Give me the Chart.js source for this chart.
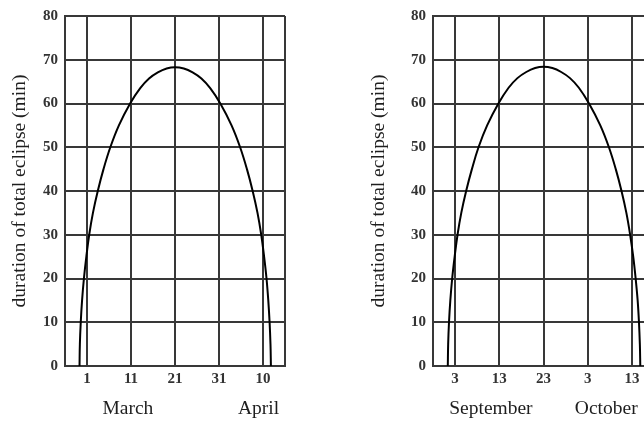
<!DOCTYPE html>
<html>
<head>
<meta charset="utf-8">
<script src="https://cdn.jsdelivr.net/npm/chart.js@4/dist/chart.umd.min.js"></script>
<style>
  html, body { margin: 0; padding: 0; background: #fff; width: 644px; height: 423px; overflow: hidden; }
  #wrap { position: relative; width: 644px; height: 423px; overflow: hidden; }
  canvas { position: absolute; top: 0; }
  #spring { left: 0; }
  #autumn { left: 340px; }
</style>
</head>
<body>
<div id="wrap">
  <canvas id="spring" width="300" height="423"></canvas>
  <canvas id="autumn" width="340" height="423"></canvas>
</div>
<script>
// Duration of a total lunar eclipse seen from the pole, around each equinox.
// x = days counted from the first labelled date (March 1 / September 3).

// Spring: days from March 1
const springDays = [-1.7, -1.62, -1.42, -1.12, -0.7, -0.15, 0.5, 1.35, 2.45, 3.75, 5.3, 7.25, 9.8, 12.1, 14.1, 16.1, 18.1, 20,
  22, 24, 26, 28, 30.3, 32.85, 34.8, 36.35, 37.65, 38.75, 39.6, 40.25, 40.8, 41.2, 41.5, 41.7, 41.8];
const springMinutes = [0, 5, 10, 15, 20, 25, 30, 35, 40, 45, 50, 55, 60, 63.5, 65.7, 67.1, 68, 68.3,
  68, 67.1, 65.7, 63.5, 60, 55, 50, 45, 40, 35, 30, 25, 20, 15, 10, 5, 0];
const springTickDays = [0, 10, 20, 30, 40];
const springTickLabels = ['1', '11', '21', '31', '10'];
const springMonths = ['March', 'April'];

// Autumn: days from September 3
const autumnDays = [-1.65, -1.57, -1.38, -1.08, -0.66, -0.1, 0.55, 1.4, 2.5, 3.8, 5.3, 7.25, 9.8, 12.1, 14.1, 16.1, 18.1, 20,
  22, 24, 26, 28, 30.3, 32.85, 34.8, 36.35, 37.65, 38.75, 39.6, 40.3, 40.85, 41.3, 41.6, 41.8, 41.9];
const autumnMinutes = [0, 5, 10, 15, 20, 25, 30, 35, 40, 45, 50, 55, 60, 63.6, 65.8, 67.2, 68.1, 68.4,
  68.1, 67.2, 65.8, 63.6, 60, 55, 50, 45, 40, 35, 30, 25, 20, 15, 10, 5, 0];
const autumnTickDays = [0, 10, 20, 30, 40];
const autumnTickLabels = ['3', '13', '23', '3', '13'];
const autumnMonths = ['September', 'October'];

const yTicks = [0, 10, 20, 30, 40, 50, 60, 70, 80];
const yTitle = 'duration of total eclipse (min)';

const GRID = '#383838';
const SERIF = '"Liberation Serif", "Times New Roman", serif';

// Month names written under the day numbers, anchored on the x scale
const monthLabels = {
  id: 'monthLabels',
  afterDraw(chart, args, opts) {
    const x = chart.scales.x;
    const ctx = chart.ctx;
    ctx.save();
    ctx.fillStyle = '#1e1e1e';
    ctx.font = '19.5px ' + SERIF;
    ctx.textAlign = 'center';
    ctx.textBaseline = 'middle';
    opts.names.forEach((name, i) => {
      ctx.fillText(name, x.getPixelForValue(opts.at[i]), opts.y);
    });
    ctx.restore();
  }
};

function makeChart(id, days, minutes, tickDays, tickLabels, months, monthAt, cfg) {
  const points = days.map((d, i) => ({ x: d, y: minutes[i] }));
  return new Chart(document.getElementById(id), {
    type: 'line',
    data: {
      datasets: [{
        data: points,
        borderColor: '#000',
        borderWidth: 2,
        pointRadius: 0,
        tension: 0.4,
        fill: false
      }]
    },
    options: {
      responsive: false,
      animation: false,
      events: [],
      layout: { padding: { top: 12, right: cfg.padRight, bottom: 0, left: 0 } },
      plugins: {
        legend: { display: false },
        tooltip: { enabled: false },
        monthLabels: { names: months, at: monthAt, y: 409 }
      },
      scales: {
        x: {
          type: 'linear',
          min: -5,
          max: 45,
          afterBuildTicks(scale) {
            scale.ticks = [-5].concat(tickDays, [45]).map(v => ({ value: v }));
          },
          afterFit(scale) { scale.height = 57; },
          ticks: {
            autoSkip: false,
            maxRotation: 0,
            padding: 4,
            color: '#333',
            font: { family: SERIF, size: 15, weight: 'bold' },
            callback(value) {
              const i = tickDays.indexOf(value);
              return i >= 0 ? tickLabels[i] : '';
            }
          },
          grid: { color: GRID, lineWidth: 2, drawTicks: false },
          border: { color: GRID, width: 2 }
        },
        y: {
          type: 'linear',
          min: 0,
          max: 80,
          afterBuildTicks(scale) {
            scale.ticks = yTicks.map(v => ({ value: v }));
          },
          afterFit(scale) { scale.width = cfg.yWidth; },
          ticks: {
            padding: 7,
            color: '#333',
            font: { family: SERIF, size: 15, weight: 'bold' }
          },
          grid: { color: GRID, lineWidth: 2, drawTicks: false },
          border: { color: GRID, width: 2 },
          title: {
            display: true,
            text: yTitle,
            color: '#1e1e1e',
            font: { family: SERIF, size: 19.5, weight: 'normal' },
            padding: { top: cfg.titlePad, bottom: 0 }
          }
        }
      }
    },
    plugins: [monthLabels]
  });
}

makeChart('spring', springDays, springMinutes, springTickDays, springTickLabels,
  springMonths, [9.3, 39], { yWidth: 65, padRight: 15, titlePad: 8 });
makeChart('autumn', autumnDays, autumnMinutes, autumnTickDays, autumnTickLabels,
  autumnMonths, [8.1, 34.2], { yWidth: 93, padRight: 26, titlePad: 27 });
</script>
</body>
</html>
